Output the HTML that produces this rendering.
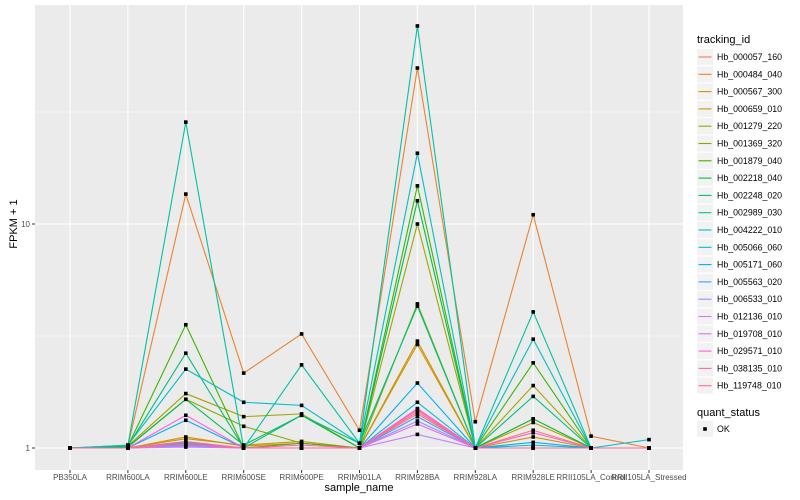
<!DOCTYPE html>
<html><head><meta charset="utf-8"><style>
body{margin:0;background:#fff;}
svg{display:block;font-family:"Liberation Sans",sans-serif;}
</style></head><body>
<svg id="chart" width="800" height="500"></svg>
<script>
const categories=["PB350LA","RRIM600LA","RRIM600LE","RRIM600SE","RRIM600PE","RRIM901LA","RRIM928BA","RRIM928LA","RRIM928LE","RRII105LA_Control","RRII105LA_Stressed"];
const seriesNames=["Hb_000057_160","Hb_000484_040","Hb_000567_300","Hb_000659_010","Hb_001279_220","Hb_001369_320","Hb_001879_040","Hb_002218_040","Hb_002248_020","Hb_002989_030","Hb_004222_010","Hb_005066_060","Hb_005171_060","Hb_005563_020","Hb_006533_010","Hb_012136_010","Hb_019708_010","Hb_029571_010","Hb_038135_010","Hb_119748_010"];
const seriesColors=["#F8766D","#EA8331","#D89000","#C09B00","#A3A500","#7CAE00","#39B600","#00BB4E","#00BF7D","#00C1A3","#00BFC4","#00BAE0","#00B0F6","#35A2FF","#9590FF","#C77CFF","#E76BF3","#FA62DB","#FF62BC","#FF6C91"];
const s00=[1,1,1.06,1,1,1,1.45,1,1.2,1,1];
const s01=[1,1.02,13.6,2.16,3.23,1.2,49.7,1.31,11.0,1.13,1];
const s02=[1,1,1.12,1.02,1.05,1,2.9,1,1.12,1,1];
const s03=[1,1,1.1,1.03,1.07,1,3.0,1,1.3,1,1];
const s04=[1,1.02,1.75,1.38,1.42,1,10,1,1.9,1,1];
const s05=[1,1.01,1.65,1.25,1.05,1,4.4,1,1.35,1,1];
const s06=[1,1.02,3.55,1,1.05,1,14.8,1,2.4,1,1];
const s07=[1,1.01,1.65,1.03,1.4,1,12.7,1,1.35,1,1];
const s08=[1,1.02,2.65,1,1.4,1.05,4.3,1,1.7,1,1];
const s09=[1,1.03,28.5,1,2.35,1.05,76.6,1,4.05,1,1];
const s10=[1,1.03,2.25,1.6,1.55,1.05,20.7,1,3.06,1,1.09];
const s11=[1,1,1.05,1,1,1,1.6,1,1.03,1,1];
const s12=[1,1,1.33,1,1,1,1.95,1,1.06,1,1];
const s13=[1,1,1.03,1,1,1,1.38,1,1,1,1];
const s14=[1,1,1.02,1,1,1,1.32,1,1,1,1];
const s15=[1,1,1.01,1,1,1,1.15,1,1,1,1];
const s16=[1,1,1.04,1,1,1,1.28,1,1,1,1];
const s17=[1,1,1.4,1,1,1,1.5,1,1.17,1,1];
const s18=[1,1,1.07,1,1.03,1,1.48,1,1,1,1];
const s19=[1,1,1.04,1,1,1,1.42,1,1,1,1];
const seriesValues=[s00,s01,s02,s03,s04,s05,s06,s07,s08,s09,s10,s11,s12,s13,s14,s15,s16,s17,s18,s19];
const yTicks=[1,10];
const yTickLabels=["1","10"];

const NS="http://www.w3.org/2000/svg";
const svg=document.getElementById('chart');
const P={l:35,r:683,t:5,b:470};
function x(i){return 70+i*(649-70)/(categories.length-1);}
function y(v){return 448-Math.log10(v)*224;}
function mk(tag,attrs,parent){const e=document.createElementNS(NS,tag);for(const k in attrs)e.setAttribute(k,attrs[k]);(parent||svg).appendChild(e);return e;}

const panel=mk('rect',{x:P.l,y:P.t,width:P.r-P.l,height:P.b-P.t,fill:'#EBEBEB'});


[Math.sqrt(10),Math.sqrt(1000)].forEach(v=>{mk('line',{x1:P.l,x2:P.r,y1:y(v),y2:y(v),stroke:'#fff','stroke-width':0.5});});
yTicks.forEach((v,i)=>{
  const g=mk('line',{x1:P.l,x2:P.r,y1:y(v),y2:y(v),stroke:'#fff','stroke-width':1.1});
  
  
  mk('line',{x1:P.l-3,x2:P.l,y1:y(v),y2:y(v),stroke:'#333','stroke-width':1});
  const t=mk('text',{x:P.l-5,y:y(v)+3,'text-anchor':'end','font-size':8,fill:'#4D4D4D'});
  t.textContent=yTickLabels[i];
  
  
});
categories.forEach((c,i)=>{
  mk('line',{x1:x(i),x2:x(i),y1:P.t,y2:P.b,stroke:'#fff','stroke-width':1.1});
  mk('line',{x1:x(i),x2:x(i),y1:P.b,y2:P.b+3,stroke:'#333','stroke-width':1});
  const t=mk('text',{x:x(i),y:P.b+10,'text-anchor':'middle','font-size':8,fill:'#4D4D4D'});
  t.textContent=c;
  
  
});
seriesValues.forEach((vals,si)=>{
  const pts=vals.map((v,i)=>x(i)+','+y(v)).join(' ');
  const pl=mk('polyline',{points:pts,fill:'none',stroke:seriesColors[si],'stroke-width':1.1});
  
  
});
seriesValues.forEach((vals,si)=>{
  vals.forEach((v,i)=>{
    const r=mk('rect',{x:x(i)-1.8,y:y(v)-1.8,width:3.6,height:3.6,fill:'#000'});
    
    
  });
});
let t=mk('text',{x:359,y:491,'text-anchor':'middle','font-size':11,fill:'#000'});
t.textContent='sample_name';


t=mk('text',{x:0,y:0,'text-anchor':'middle','font-size':11,fill:'#000',transform:'translate(17,224) rotate(-90)'});
t.textContent='FPKM + 1';


t=mk('text',{x:697,y:43,'font-size':11,fill:'#000'});
t.textContent='tracking_id';


seriesNames.forEach((n,i)=>{
  const cy=57+i*17.3;
  const g=mk('g',{});
  
  
  mk('rect',{x:697,y:cy-8,width:16,height:16,fill:'#F2F2F2'},g);
  mk('line',{x1:698.5,x2:711.5,y1:cy,y2:cy,stroke:seriesColors[i],'stroke-width':1.1},g);
  const tt=mk('text',{x:717,y:cy+3,'font-size':8.8,fill:'#000'},g);
  tt.textContent=n;
});
t=mk('text',{x:697,y:416,'font-size':11,fill:'#000'});
t.textContent='quant_status';


const og=mk('g',{});


mk('rect',{x:697,y:421,width:16,height:16,fill:'#F2F2F2'},og);
mk('rect',{x:703.2,y:427.2,width:3.6,height:3.6,fill:'#000'},og);
const ot=mk('text',{x:717,y:432,'font-size':8.8,fill:'#000'},og);
ot.textContent='OK';
</script>
</body></html>
